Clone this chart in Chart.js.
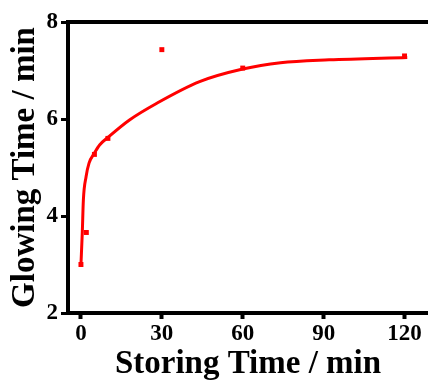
<!DOCTYPE html>
<html>
<head>
<meta charset="utf-8">
<script src="https://cdn.jsdelivr.net/npm/chart.js@4.4.1/dist/chart.umd.min.js"></script>
<style>
  html, body { margin: 0; padding: 0; background: #fff; overflow: hidden; }
  canvas { display: block; }
</style>
</head>
<body>
<canvas id="glowChart" width="428" height="381"></canvas>
<script>
// measured glowing time after storing
const storeTimes = [0, 2, 5, 10, 30, 60, 120];
const glowTimes = [3.0, 3.66, 5.27, 5.6, 7.43, 7.05, 7.3];

// fitted curve
const fitTimes = [0, 0.5, 0.9, 1.9, 3, 5, 7, 10, 18, 28, 44, 60, 74, 92, 121];
const fitGlow = [3.0, 3.66, 4.33, 4.81, 5.09, 5.3, 5.47, 5.62, 5.98, 6.32, 6.77, 7.03, 7.16, 7.22, 7.27];

const xTicks = [0, 30, 60, 90, 120];
const yTicks = [2, 4, 6, 8];

const red = '#ff0000';
const fontFamily = '"Liberation Serif", "Times New Roman", serif';

const points = storeTimes.map((t, i) => ({ x: t, y: glowTimes[i] }));
const fitLine = fitTimes.map((t, i) => ({ x: t, y: fitGlow[i] }));

// keep tick labels from shrinking the plot area
function noSidePadding(scale) {
  scale.paddingLeft = 0;
  scale.paddingRight = 0;
}

const ctx = document.getElementById('glowChart').getContext('2d');

new Chart(ctx, {
  type: 'scatter',
  data: {
    datasets: [
      {
        label: 'Fit',
        data: fitLine,
        showLine: true,
        borderColor: red,
        borderWidth: 3,
        pointRadius: 0,
        cubicInterpolationMode: 'monotone',
        order: 2
      },
      {
        label: 'Glowing Time',
        data: points,
        showLine: false,
        pointStyle: 'rect',
        pointRadius: 3.5,
        backgroundColor: red,
        borderColor: red,
        borderWidth: 0,
        order: 1
      }
    ]
  },
  options: {
    responsive: false,
    animation: false,
    layout: { autoPadding: false, padding: { top: 22, right: 0, left: 0, bottom: 0 } },
    plugins: {
      legend: { display: false },
      tooltip: { enabled: false }
    },
    scales: {
      x: {
        type: 'linear',
        position: 'bottom',
        min: -4.8,
        max: 128.7,
        afterBuildTicks: (scale) => { scale.ticks = xTicks.map(v => ({ value: v })); },
        afterFit: (scale) => { scale.height = 68; noSidePadding(scale); },
        grid: {
          display: true,
          drawOnChartArea: false,
          drawTicks: true,
          tickLength: 6,
          tickWidth: 4,
          tickColor: '#000'
        },
        border: { display: true, color: '#000', width: 4 },
        ticks: {
          padding: 1,
          color: '#000',
          font: { family: fontFamily, size: 23, weight: 'bold' }
        },
        title: {
          display: true,
          text: 'Storing Time / min',
          color: '#000',
          padding: { top: 0, bottom: 0 },
          font: { family: fontFamily, size: 33, weight: 'bold', lineHeight: 1.0 }
        }
      },
      xTop: {
        type: 'linear',
        position: 'top',
        min: -4.8,
        max: 128.7,
        afterFit: (scale) => { scale.height = 0; noSidePadding(scale); },
        grid: { display: false },
        border: { display: true, color: '#000', width: 4 },
        ticks: { display: false }
      },
      y: {
        type: 'linear',
        min: 2,
        max: 8,
        afterBuildTicks: (scale) => { scale.ticks = yTicks.map(v => ({ value: v })); },
        afterFit: (scale) => { scale.width = 68; },
        grid: {
          display: true,
          drawOnChartArea: false,
          drawTicks: true,
          tickLength: 7,
          tickWidth: 3,
          tickColor: '#000'
        },
        border: { display: true, color: '#000', width: 4 },
        ticks: {
          padding: 3,
          color: '#000',
          font: { family: fontFamily, size: 23, weight: 'bold' }
        },
        title: {
          display: true,
          text: 'Glowing Time / min',
          color: '#000',
          padding: { top: 6, bottom: 0 },
          font: { family: fontFamily, size: 33, weight: 'bold' }
        }
      }
    }
  }
});
</script>
</body>
</html>
